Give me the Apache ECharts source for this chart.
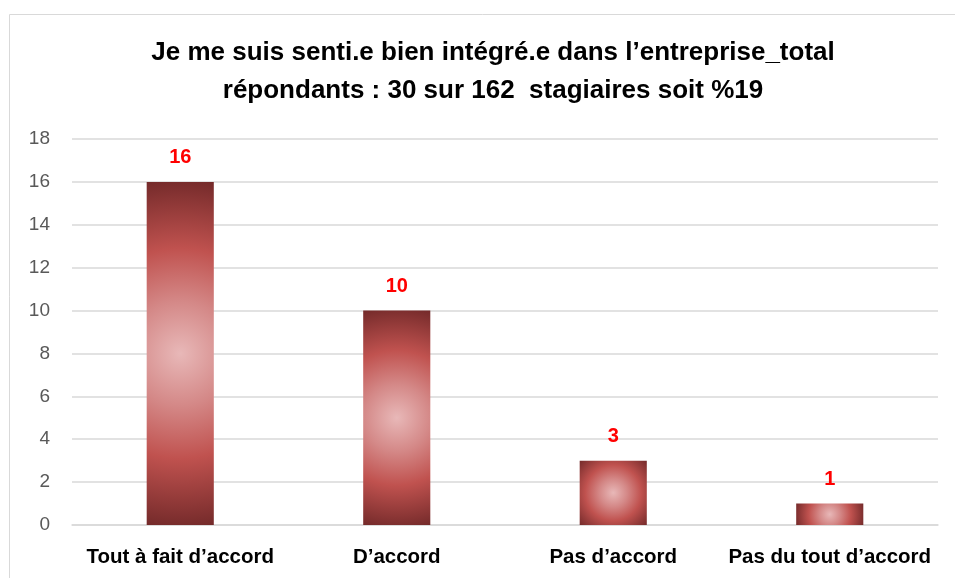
<!DOCTYPE html>
<html>
<head>
<meta charset="utf-8">
<script src="https://cdn.jsdelivr.net/npm/echarts@6/dist/echarts.min.js"></script>
<style>
  html, body { margin: 0; padding: 0; background: #fff; }
  #main { width: 955px; height: 578px; }
</style>
</head>
<body>
<div id="main"></div>
<script>
var categories = ["Tout à fait d’accord", "D’accord", "Pas d’accord", "Pas du tout d’accord"];
var values = [16, 10, 3, 1];
var yTicks = [0, 2, 4, 6, 8, 10, 12, 14, 16, 18];

var FONT = '"Liberation Sans", Arial, sans-serif';

// radial fill centred on each bar, radius reaches the corners
function barFill(cx, cy, r) {
  return new echarts.graphic.RadialGradient(cx, cy, r, [
    { offset: 0, color: '#e8b8b8' },
    { offset: 0.3, color: '#d48887' },
    { offset: 0.6, color: '#c0524f' },
    { offset: 1, color: '#742a2a' }
  ], true);
}

function renderBar(params, api) {
  var idx = api.value(0);
  var val = api.value(1);
  var top = api.coord([idx, val]);
  var base = api.coord([idx, 0]);
  var w = api.size([1, 0])[0] * 0.31;
  var h = base[1] - top[1];
  var r = Math.sqrt(w * w + h * h) / 2;
  return {
    type: 'group',
    children: [{
      type: 'rect',
      shape: { x: top[0] - w / 2, y: top[1], width: w, height: h },
      style: { fill: barFill(top[0], top[1] + h / 2, r) }
    }, {
      type: 'text',
      x: top[0],
      y: top[1] - 24,
      style: {
        text: String(val),
        fill: '#ff0000',
        font: 'bold 20px ' + FONT,
        align: 'center',
        verticalAlign: 'middle'
      }
    }]
  };
}

var chart = echarts.init(document.getElementById('main'));
chart.setOption({
  animation: false,
  title: {
    text: 'Je me suis senti.e bien intégré.e dans l’entreprise_total\nrépondants : 30 sur 162  stagiaires soit %19',
    left: 488,
    top: 29,
    textAlign: 'center',
    textStyle: {
      fontFamily: FONT,
      fontWeight: 'bold',
      fontSize: 26,
      lineHeight: 38,
      color: '#000'
    }
  },
  graphic: [{
    type: 'rect',
    silent: true,
    shape: { x: 9.5, y: 14.5, width: 980, height: 600 },
    style: { fill: null, stroke: '#d9d9d9', lineWidth: 1 }
  }],
  grid: { left: 72, right: 17, top: 139, bottom: 53 },
  xAxis: {
    type: 'category',
    data: categories,
    axisLine: { lineStyle: { color: '#d9d9d9', width: 1.5 } },
    axisTick: { show: false },
    axisLabel: {
      interval: 0,
      margin: 22,
      color: '#000',
      fontFamily: FONT,
      fontWeight: 'bold',
      fontSize: 20.5
    }
  },
  yAxis: {
    type: 'value',
    min: yTicks[0],
    max: yTicks[yTicks.length - 1],
    interval: 2,
    axisLine: { show: false },
    axisTick: { show: false },
    splitLine: { lineStyle: { color: '#d9d9d9', width: 1.5 } },
    axisLabel: {
      margin: 22,
      color: '#595959',
      fontFamily: FONT,
      fontSize: 19
    }
  },
  series: [{
    type: 'custom',
    renderItem: renderBar,
    encode: { x: 0, y: 1 },
    data: values.map(function (v, i) { return [i, v]; })
  }]
});
</script>
</body>
</html>
